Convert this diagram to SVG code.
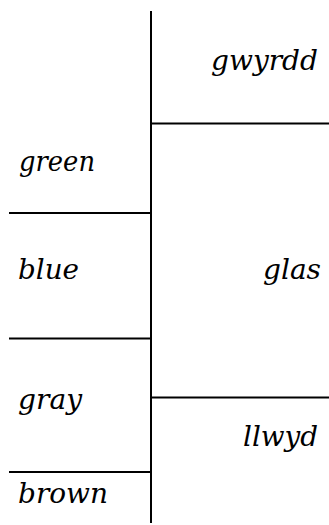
<svg xmlns="http://www.w3.org/2000/svg" width="329" height="525" viewBox="0 0 329 525">
<style>
.ln{stroke:#000;stroke-width:2;fill:none}
.t{font-family:"DejaVu Serif","Liberation Serif",serif;font-style:italic;font-size:28px;fill:#000}
</style>
<rect width="329" height="525" fill="#fff"/>
<g id="connectors">
<line class="ln" x1="151" y1="11" x2="151" y2="523"/>
<line class="ln" x1="151" y1="123.5" x2="329" y2="123.5"/>
<line class="ln" x1="151" y1="397.5" x2="329" y2="397.5"/>
<line class="ln" x1="9" y1="213" x2="151" y2="213"/>
<line class="ln" x1="9" y1="338.5" x2="151" y2="338.5"/>
<line class="ln" x1="9" y1="472" x2="151" y2="472"/>
</g>
<g id="gwyrdd"><text class="t" x="211" y="70" textLength="107" lengthAdjust="spacingAndGlyphs">gwyrdd</text></g>
<g id="green"><text class="t" x="19" y="171" textLength="76" lengthAdjust="spacingAndGlyphs">green</text></g>
<g id="blue"><text class="t" x="18" y="279" textLength="61" lengthAdjust="spacingAndGlyphs">blue</text></g>
<g id="glas"><text class="t" x="263" y="279" textLength="58" lengthAdjust="spacingAndGlyphs">glas</text></g>
<g id="gray"><text class="t" x="18" y="409" textLength="64" lengthAdjust="spacingAndGlyphs">gray</text></g>
<g id="llwyd"><text class="t" x="243" y="446" textLength="75" lengthAdjust="spacingAndGlyphs">llwyd</text></g>
<g id="brown"><text class="t" x="18" y="503" textLength="90" lengthAdjust="spacingAndGlyphs">brown</text></g>
</svg>
